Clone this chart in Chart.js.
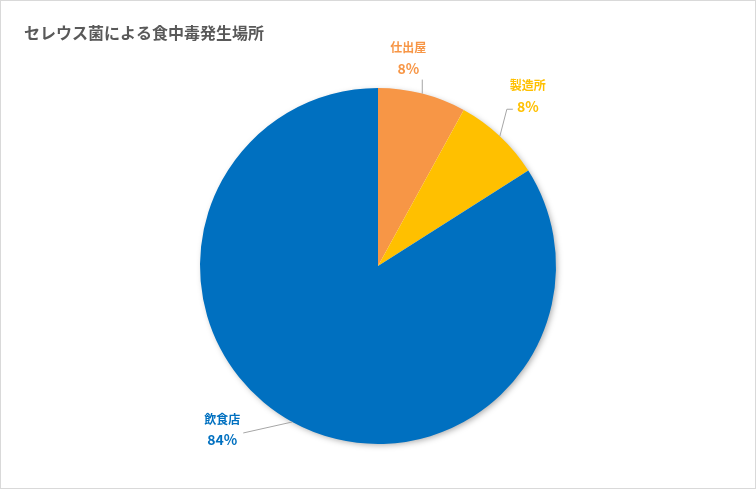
<!DOCTYPE html>
<html>
<head>
<meta charset="utf-8">
<script src="https://cdn.jsdelivr.net/npm/chart.js@4"></script>
<style>
  html, body { margin: 0; padding: 0; background: #fff; }
  #wrap { position: relative; width: 756px; height: 489px; }
</style>
</head>
<body>
<div id="wrap"><canvas id="chart"></canvas></div>
<script>
const title = "セレウス菌による食中毒発生場所";
const categories = ["仕出屋", "製造所", "飲食店"];
const values = [8, 8, 84];
const colors = ["#F79646", "#FFC000", "#0070C0"];

const FONT = "'Noto Sans CJK JP', 'Noto Sans', sans-serif";

// label placement relative to the slice's outer midpoint: leader path + text anchor
const labelLayout = [
  { path: [[0, -14]], text: [-14, -36], align: "center" },
  { path: [[7, -27], [13, -27]], text: [28, -41], align: "center" },
  { path: [[-49, 11]], text: [-70, 7], align: "center" },
];

const decor = {
  id: "decor",
  beforeDatasetsDraw(chart) {
    const ctx = chart.ctx;
    const arc = chart.getDatasetMeta(0).data[0];
    ctx.save();
    ctx.shadowColor = "rgba(0,0,0,0.35)";
    ctx.shadowBlur = 6;
    ctx.shadowOffsetX = 2;
    ctx.shadowOffsetY = 2;
    ctx.beginPath();
    ctx.arc(arc.x, arc.y, arc.outerRadius - 1, 0, Math.PI * 2);
    ctx.fillStyle = "#fff";
    ctx.fill();
    ctx.restore();
  },
  afterDraw(chart) {
    const ctx = chart.ctx;
    const total = values.reduce((a, b) => a + b, 0);
    ctx.save();
    // frame
    ctx.strokeStyle = "#d9d9d9";
    ctx.lineWidth = 1;
    ctx.strokeRect(0.5, 0.5, chart.width - 1, chart.height - 1);
    // title
    ctx.fillStyle = "#595959";
    ctx.font = "bold 16px " + FONT;
    ctx.textAlign = "left";
    ctx.textBaseline = "middle";
    ctx.fillText(title, 24, 33);

    chart.getDatasetMeta(0).data.forEach((arc, i) => {
      const mid = (arc.startAngle + arc.endAngle) / 2;
      const ex = arc.x + Math.cos(mid) * arc.outerRadius;
      const ey = arc.y + Math.sin(mid) * arc.outerRadius;
      const lay = labelLayout[i];
      ctx.strokeStyle = "#a6a6a6";
      ctx.lineWidth = 1;
      ctx.beginPath();
      ctx.moveTo(ex, ey);
      lay.path.forEach(p => ctx.lineTo(ex + p[0], ey + p[1]));
      ctx.stroke();
      const tx = ex + lay.text[0];
      const ty = ey + lay.text[1];
      ctx.fillStyle = colors[i];
      ctx.textAlign = lay.align;
      ctx.font = "bold 12px " + FONT;
      ctx.fillText(categories[i], tx, ty - 10);
      ctx.font = "bold 14px " + FONT;
      ctx.fillText(Math.round(values[i] / total * 100) + "%", tx, ty + 11);
    });
    ctx.restore();
  }
};

new Chart(document.getElementById("chart"), {
  type: "pie",
  data: {
    labels: categories,
    datasets: [{
      data: values,
      backgroundColor: colors,
      borderWidth: 0,
    }],
  },
  options: {
    responsive: true,
    maintainAspectRatio: false,
    animation: false,
    layout: { padding: { top: 88, bottom: 45, left: 0, right: 0 } },
    plugins: {
      legend: { display: false },
      tooltip: { enabled: false },
    },
  },
  plugins: [decor],
});
</script>
</body>
</html>
